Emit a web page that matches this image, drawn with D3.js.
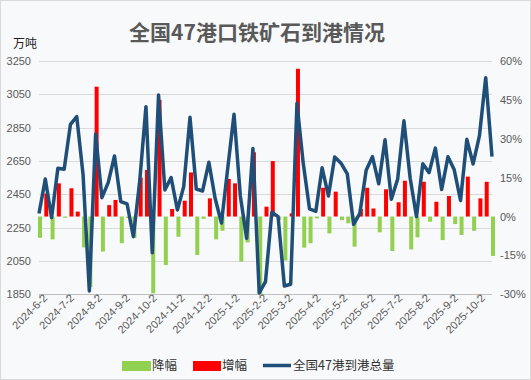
<!DOCTYPE html>
<html>
<head>
<meta charset="utf-8"/>
<script src="https://cdn.jsdelivr.net/npm/d3@7"></script>
<style>
body { margin: 0; background: #fff; }
svg { font-family: "Noto Sans CJK SC", "Noto Sans", sans-serif; }
.tick text { fill: #595959; font-size: 11px; }
.grid line { stroke: #d9d9d9; stroke-width: 1px; shape-rendering: crispEdges; }
.legend text { font-size: 12.5px; fill: #333; }
</style>
</head>
<body>
<svg></svg>
<script>
// weekly arrivals at 47 ports (10k tonnes), first week 2024-6-2
var startDate = "2024-6-2";
var volume = [
  2335, 2542, 2310, 2606, 2600, 2870, 2916, 2570, 1870, 2812,
  2430, 2520, 2680, 2406, 2392, 2196, 2525, 2976, 2100, 3046,
  2476, 2550, 2356, 2496, 2912, 2482, 2470, 2642, 2425, 2278,
  2607, 2930, 2440, 2186, 2725, 1858, 1926, 2342, 2316, 1900,
  1910, 2996, 2636, 2362, 2348, 2609, 2440, 2674, 2637, 2572,
  2270, 2336, 2595, 2676, 2513, 2777, 2420, 2540, 2891, 2545,
  2316, 2633, 2580, 2727, 2479, 2675, 2597, 2413, 2780, 2632,
  2800, 3150, 2676
];
// week-on-week change (%)
var change = [
  -8.2, 8.9, -8.8, 12.8, -0.5, 10.9, 1.9, -11.9, -27.2, 50.1,
  -13.5, 4.4, 6.4, -10.3, -0.6, -8.3, 15.0, 18.0, -29.6, 45.0,
  -18.7, 2.9, -7.8, 6.1, 17.0, -14.8, -0.9, 7.0, -8.8, -5.5,
  14.5, 12.8, -17.4, -10.0, 24.8, -30.0, 3.8, 21.4, -1.3, -17.0,
  1.2, 57.0, -12.0, -10.3, -0.7, 11.1, -6.5, 9.6, -1.4, -2.6,
  -11.6, 2.9, 11.1, 3.1, -6.1, 10.5, -13.3, 5.5, 13.8, -12.7,
  -8.0, 13.4, -2.0, 5.7, -9.1, 7.9, -2.9, -7.1, 15.4, -5.5,
  7.0, 13.4, -15.2
];
var monthTicks = ["2024-6-2", "2024-7-2", "2024-8-2", "2024-9-2", "2024-10-2",
  "2024-11-2", "2024-12-2", "2025-1-2", "2025-2-2", "2025-3-2", "2025-4-2",
  "2025-5-2", "2025-6-2", "2025-7-2", "2025-8-2", "2025-9-2", "2025-10-2"];
var leftTicks = [1850, 2050, 2250, 2450, 2650, 2850, 3050, 3250];
var rightTicks = [-30, -15, 0, 15, 30, 45, 60];

var W = 531, H = 380;
var parse = d3.timeParse("%Y-%m-%d");
var t0 = parse(startDate);
var data = volume.map(function (v, i) {
  return {date: d3.timeDay.offset(t0, 7 * i), val: v, pct: change[i]};
});

var svg = d3.select("svg").attr("width", W).attr("height", H);

svg.append("rect")
  .attr("x", 0.5).attr("y", 0.5)
  .attr("width", W - 1).attr("height", H - 1)
  .attr("fill", "#f8f9fa").attr("stroke", "#d9d9d9");

var x = d3.scaleTime()
  .domain([t0, data[data.length - 1].date])
  .range([39, 492]);
var yL = d3.scaleLinear().domain([1850, 3250]).range([294.3, 61]);
var yR = d3.scaleLinear().domain([-30, 60]).range([294.3, 61]);

// title
svg.append("text")
  .attr("x", 257).attr("y", 40)
  .attr("text-anchor", "middle")
  .attr("font-size", "21px").attr("font-weight", "bold")
  .attr("fill", "#595959")
  .text("全国47港口铁矿石到港情况");

svg.append("text")
  .attr("x", 13).attr("y", 48)
  .attr("font-size", "12px").attr("fill", "#222")
  .text("万吨");

// gridlines
svg.append("g").attr("class", "grid")
  .selectAll("line").data(leftTicks.slice(1))
  .enter().append("line")
  .attr("x1", 39).attr("x2", 492)
  .attr("y1", d => Math.round(yL(d)) + 0.5).attr("y2", d => Math.round(yL(d)) + 0.5);

// left axis
var gl = svg.append("g")
  .attr("transform", "translate(34,0)")
  .call(d3.axisLeft(yL).tickValues(leftTicks).tickSize(0).tickPadding(3)
    .tickFormat(d3.format("d")));
gl.select(".domain").remove();

// right axis
var gr = svg.append("g")
  .attr("transform", "translate(492,0)")
  .call(d3.axisRight(yR).tickValues(rightTicks).tickSize(0).tickPadding(8)
    .tickFormat(d => d + "%"));
gr.select(".domain").remove();

// bars
var bw = 4;
svg.append("g")
  .selectAll("rect").data(data)
  .enter().append("rect")
  .attr("x", d => x(d.date) - bw / 2 + 1)
  .attr("y", d => d.pct >= 0 ? yR(d.pct) : yR(0))
  .attr("width", bw)
  .attr("height", d => Math.abs(yR(d.pct) - yR(0)))
  .attr("fill", d => d.pct >= 0 ? "#ff0000" : "#92d050");

// bottom axis
var gx = svg.append("g")
  .attr("transform", "translate(0,294.5)")
  .call(d3.axisBottom(x).tickValues(monthTicks.map(parse))
    .tickSize(4).tickPadding(4)
    .tickFormat((d, i) => monthTicks[i]));
gx.select(".domain").attr("stroke", "#bfbfbf").attr("d", "M39,0H492");
gx.selectAll(".tick line").attr("stroke", "#bfbfbf");
gx.selectAll(".tick text")
  .attr("text-anchor", "end")
  .attr("dx", "3px").attr("dy", "3px")
  .attr("transform", "rotate(-45)")
  .attr("y", 6).attr("x", 0);

// line
var line = d3.line()
  .x(d => x(d.date))
  .y(d => yL(d.val));

svg.append("path")
  .datum(data)
  .attr("d", line)
  .attr("fill", "none")
  .attr("stroke", "#1f4e79")
  .attr("stroke-width", 3.5)
  .attr("stroke-linejoin", "round");

// legend
var lg = svg.append("g").attr("class", "legend");
lg.append("rect").attr("x", 122).attr("y", 361).attr("width", 29).attr("height", 10).attr("fill", "#92d050");
lg.append("text").attr("x", 152).attr("y", 370).text("降幅");
lg.append("rect").attr("x", 193).attr("y", 361).attr("width", 28).attr("height", 10).attr("fill", "#ff0000");
lg.append("text").attr("x", 222).attr("y", 370).text("增幅");
lg.append("line").attr("x1", 263).attr("x2", 291).attr("y1", 365.5).attr("y2", 365.5)
  .attr("stroke", "#1f4e79").attr("stroke-width", 3.5);
lg.append("text").attr("x", 293).attr("y", 370).text("全国47港到港总量");
</script>
</body>
</html>
